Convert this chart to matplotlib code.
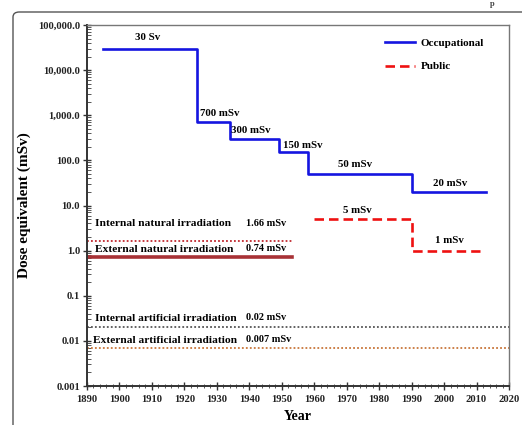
import numpy as np
import matplotlib
matplotlib.use("Agg")
import matplotlib.pyplot as plt
from matplotlib.patches import FancyBboxPatch
from matplotlib.ticker import FixedLocator, MultipleLocator, NullFormatter

plt.rcParams['font.family'] = ['Liberation Serif', 'DejaVu Serif']
plt.rcParams['font.weight'] = 'bold'

# dose limits (mSv) as step functions over the years
occ_years = [1895, 1924, 1934, 1949, 1958, 1990, 2013]
occ_dose = [30000, 700, 300, 150, 50, 20, 20]
occ_labels = ["30 Sv", "700 mSv", "300 mSv", "150 mSv", "50 mSv", "20 mSv"]

pub_years = [1960, 1990, 2011]
pub_dose = [5, 1, 1]
pub_labels = ["5 mSv", "1 mSv"]

# background irradiation levels (mSv)
bg_names = ["Internal natural irradiation", "External natural irradiation",
            "Internal artificial irradiation", "External artificial irradiation"]
bg_dose = [1.66, 0.74, 0.02, 0.007]
bg_end = [1953, 1953, 2020, 2020]
bg_value_text = ["1.66 mSv", "0.74 mSv", "0.02 mSv", "0.007 mSv"]

yticks = [0.001, 0.01, 0.1, 1, 10, 100, 1000, 10000, 100000]
ytick_labels = ["0.001", "0.01", "0.1", "1.0", "10.0", "100.0",
                "1,000.0", "10,000.0", "100,000.0"]

fig = plt.figure(figsize=(5.22, 4.25), dpi=100)

# page frame around the figure
frame = FancyBboxPatch((13 / 522, -0.2), 1.2, (413 / 425) + 0.2,
                       boxstyle="round,pad=0,rounding_size=0.012",
                       transform=fig.transFigure, fill=False,
                       edgecolor='#555555', linewidth=1.0, clip_on=False)
fig.patches.append(frame)
fig.text(492 / 522, 0.999, "p", fontsize=6, ha='center', va='top', color='#444444')

ax = fig.add_axes([87 / 522, 39 / 425, 422 / 522, 361 / 425])
ax.set_yscale('log')
ax.set_xlim(1890, 2020)
ax.set_ylim(0.001, 100000)

# occupational and public limits
ax.step(occ_years, occ_dose, where='post', color='#1515e0', lw=1.9,
        label='Occupational')
ax.step(pub_years, pub_dose, where='post', color='#ee1111', lw=1.9,
        linestyle=(0, (3.6, 1.9)), label='Public')

occ_pos = [(1908.8, 52000, 'center'), (1924.9, 1120, 'left'),
           (1934.4, 470, 'left'), (1950.5, 218, 'left'),
           (1972.7, 79, 'center'), (2002, 31, 'center')]
for lab, (x, y, ha) in zip(occ_labels, occ_pos):
    ax.text(x, y, lab, fontsize=7.8, ha=ha, va='center')
pub_pos = [(1973.3, 7.9), (2001.7, 1.7)]
for lab, (x, y) in zip(pub_labels, pub_pos):
    ax.text(x, y, lab, fontsize=7.8, ha='center', va='center')

# background levels
bg_styles = [dict(color='#c0282e', lw=1.3, linestyle=(0, (1, 1.2))),
             dict(color='#a83236', lw=2.6, linestyle='-'),
             dict(color='#555555', lw=1.3, linestyle=(0, (1, 1.2))),
             dict(color='#c8763a', lw=1.3, linestyle=(0, (1, 1.2)))]
name_y = [3.9, 1.08, 0.032, 0.0104]
name_x = [1892.5, 1892.5, 1892.5, 1891.8]
for i in range(len(bg_names)):
    ax.plot([1890, bg_end[i]], [bg_dose[i], bg_dose[i]], **bg_styles[i])
    ax.text(name_x[i], name_y[i], bg_names[i], fontsize=8.2, ha='left', va='center')
    ax.text(1939, name_y[i] * 1.04, bg_value_text[i], fontsize=7.4,
            ha='left', va='center')

# axes styling
ax.yaxis.set_major_locator(FixedLocator(yticks))
ax.set_yticklabels(ytick_labels)
ax.yaxis.set_minor_locator(FixedLocator(
    [m * 10.0 ** e for e in range(-3, 5) for m in range(2, 10)]))
ax.yaxis.set_minor_formatter(NullFormatter())
ax.xaxis.set_major_locator(MultipleLocator(10))
ax.xaxis.set_minor_locator(MultipleLocator(2))
ax.tick_params(axis='both', which='major', direction='inout', length=6,
               width=1.0, labelsize=7.6, color='#333333', labelcolor='#222222')
ax.tick_params(axis='y', which='minor', direction='in', length=3, width=0.7,
               color='#555555')
ax.tick_params(axis='x', which='minor', direction='inout', length=3, width=0.7,
               color='#555555')
ax.tick_params(axis='y', pad=2)
for s in ['left', 'bottom']:
    ax.spines[s].set_linewidth(1.4)
    ax.spines[s].set_color('#333333')
for s in ['top', 'right']:
    ax.spines[s].set_linewidth(1.0)
    ax.spines[s].set_color('#777777')

ax.set_xlabel('Year', fontsize=10, fontweight='bold', labelpad=4)
ax.set_ylabel('Dose equivalent (mSv)', fontsize=11, fontweight='bold', labelpad=5)

ax.legend(loc='upper right', bbox_to_anchor=(0.965, 0.99), frameon=False,
          fontsize=8, handlelength=2.7, handletextpad=0.5, labelspacing=1.2)

fig.savefig('out.png', dpi=100)
